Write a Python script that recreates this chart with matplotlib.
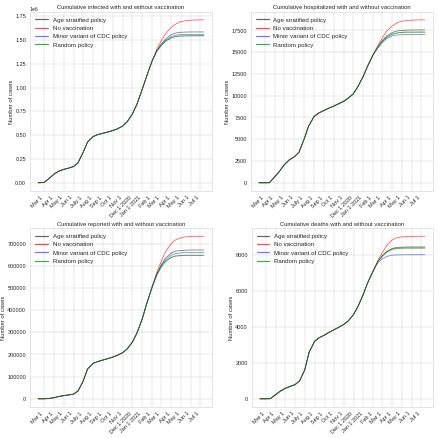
import datetime as dt
import matplotlib
matplotlib.use("Agg")
import matplotlib.pyplot as plt
import seaborn as sns

sns.set_theme(style="whitegrid")
plt.rcParams['font.family'] = ['Liberation Sans', 'DejaVu Sans']

# ---- data ----
shared_dates = ["2020-02-12", "2020-03-01", "2020-03-15", "2020-04-01", "2020-04-15",
                "2020-05-01", "2020-05-15", "2020-06-01", "2020-06-15", "2020-07-01",
                "2020-07-15", "2020-08-01", "2020-08-15", "2020-09-01", "2020-09-15",
                "2020-10-01", "2020-10-15", "2020-11-01", "2020-11-15", "2020-12-01",
                "2020-12-15", "2021-01-01", "2021-01-15", "2021-02-01"]
tail_dates = ["2021-02-15", "2021-03-01", "2021-03-15", "2021-04-01", "2021-04-15",
              "2021-05-01", "2021-05-15", "2021-06-01", "2021-06-15", "2021-07-01",
              "2021-07-12"]

policies = ["Age stratified policy", "No vaccination", "Minor variant of CDC policy", "Random policy"]
colors = ["black", "red", "blue", "green"]
alphas = [0.6, 0.7, 0.55, 0.7]
widths = [1.7, 1.8, 1.8, 2.6]

infected_shared = [0, 3e3, 4e4, 9e4, 1.2e5, 1.4e5, 1.52e5, 1.7e5, 2.1e5, 3.2e5, 4.3e5, 4.85e5,
                   5.05e5, 5.2e5, 5.32e5, 5.48e5, 5.65e5, 5.95e5, 6.4e5, 7.2e5, 8.2e5, 9.8e5,
                   1.12e6, 1.28e6]
infected_age = [1.385e6, 1.455e6, 1.51e6, 1.555e6, 1.572e6, 1.58e6, 1.582e6, 1.583e6, 1.583e6, 1.583e6, 1.583e6]
infected_none = [1.40e6, 1.49e6, 1.565e6, 1.63e6, 1.665e6, 1.69e6, 1.70e6, 1.707e6, 1.709e6, 1.71e6, 1.71e6]
infected_cdc = [1.38e6, 1.445e6, 1.495e6, 1.535e6, 1.55e6, 1.555e6, 1.557e6, 1.558e6, 1.558e6, 1.558e6, 1.558e6]
infected_rand = [1.378e6, 1.44e6, 1.487e6, 1.52e6, 1.535e6, 1.54e6, 1.542e6, 1.543e6, 1.543e6, 1.543e6, 1.543e6]

hosp_shared = [0, 0, 10, 700, 1300, 2100, 2600, 3000, 3500, 5000, 6500, 7600, 8000, 8300, 8550,
               8800, 9050, 9350, 9700, 10200, 11000, 12200, 13400, 14700]
hosp_age = [15550, 16300, 16850, 17250, 17420, 17500, 17530, 17550, 17550, 17550, 17550]
hosp_none = [15700, 16600, 17400, 18000, 18350, 18550, 18630, 18680, 18700, 18710, 18710]
hosp_cdc = [15450, 16100, 16550, 16850, 16970, 17000, 17020, 17020, 17020, 17020, 17020]
hosp_rand = [15500, 16200, 16700, 17050, 17200, 17270, 17300, 17300, 17300, 17300, 17300]

rep_shared = [0, 0, 1000, 5000, 10000, 14000, 17000, 21000, 35000, 80000, 135000, 160000,
              168000, 175000, 181000, 188000, 196000, 208000, 225000, 255000, 295000, 360000,
              430000, 505000]
rep_age = [562000, 605000, 636000, 658000, 667000, 670000, 671000, 672000, 672000, 672000, 672000]
rep_none = [570000, 620000, 665000, 700000, 718000, 727000, 731000, 733000, 734000, 734000, 734000]
rep_cdc = [560000, 600000, 628000, 648000, 656000, 659000, 660000, 660000, 660000, 660000, 660000]
rep_rand = [558000, 595000, 621000, 638000, 645000, 647000, 648000, 648000, 648000, 648000, 648000]

death_shared = [0, 0, 5, 230, 420, 580, 680, 790, 1000, 1600, 2600, 3200, 3400, 3550, 3700,
                3850, 3980, 4150, 4350, 4700, 5150, 5850, 6500, 7150]
death_age = [7650, 7980, 8220, 8380, 8430, 8450, 8460, 8460, 8460, 8460, 8460]
death_none = [7700, 8150, 8550, 8850, 8970, 9020, 9040, 9050, 9055, 9055, 9055]
death_cdc = [7580, 7800, 7930, 8000, 8015, 8020, 8025, 8025, 8025, 8025, 8025]
death_rand = [7640, 7950, 8180, 8330, 8380, 8395, 8400, 8400, 8400, 8400, 8400]

tick_dates = ["2020-03-01", "2020-04-01", "2020-05-01", "2020-06-01", "2020-07-01",
              "2020-08-01", "2020-09-01", "2020-10-01", "2020-11-01", "2020-12-01",
              "2021-01-01", "2021-02-01", "2021-03-01", "2021-04-01", "2021-05-01",
              "2021-06-01", "2021-07-01"]
tick_labels = ["Mar 1", "Apr 1", "May 1", "Jun 1", "July 1", "Aug 1", "Sep 1", "Oct 1",
               "Nov 1", "Dec 1 2020", "Jan 1 2021", "Feb 1", "Mar 1", "Apr 1", "May 1",
               "Jun 1", "Jul 1"]

panels = [
    ("Cumulative infected with and without vaccination", infected_shared,
     [infected_age, infected_none, infected_cdc, infected_rand]),
    ("Cumulative hospitalized with and without vaccination", hosp_shared,
     [hosp_age, hosp_none, hosp_cdc, hosp_rand]),
    ("Cumulative reported with and without vaccination", rep_shared,
     [rep_age, rep_none, rep_cdc, rep_rand]),
    ("Cumulative deaths with and without vaccination", death_shared,
     [death_age, death_none, death_cdc, death_rand]),
]

def to_dt(s):
    return dt.datetime.strptime(s, "%Y-%m-%d")

dates = [to_dt(d) for d in shared_dates + tail_dates]
ticks = [to_dt(d) for d in tick_dates]

fig = plt.figure(figsize=(15.0, 14.932), dpi=29.34)
rects = [
    [0.068, 0.564, 0.414, 0.409],
    [0.570, 0.564, 0.414, 0.409],
    [0.068, 0.071, 0.414, 0.408],
    [0.572, 0.071, 0.412, 0.408],
]

for rect, (title, shared, tails) in zip(rects, panels):
    ax = fig.add_axes(rect)
    for name, col, a, w, tail in zip(policies, colors, alphas, widths, tails):
        ax.plot(dates, shared + tail, color=col, lw=w, alpha=a, label=name)
    ax.set_title(title, fontsize=14.5)
    ax.set_ylabel("Number of cases", fontsize=14.5)
    ax.set_xticks(ticks)
    ax.set_xticklabels(tick_labels, rotation=45, ha="right", fontsize=13.5)
    ax.tick_params(axis="y", labelsize=13.5)
    ax.yaxis.get_offset_text().set_fontsize(13)
    leg = ax.legend(loc="upper left", fontsize=15, frameon=False, handlelength=2.0)
    for h in leg.get_lines():
        h.set_linewidth(3.0)

fig.savefig("out.png", dpi=29.34)
